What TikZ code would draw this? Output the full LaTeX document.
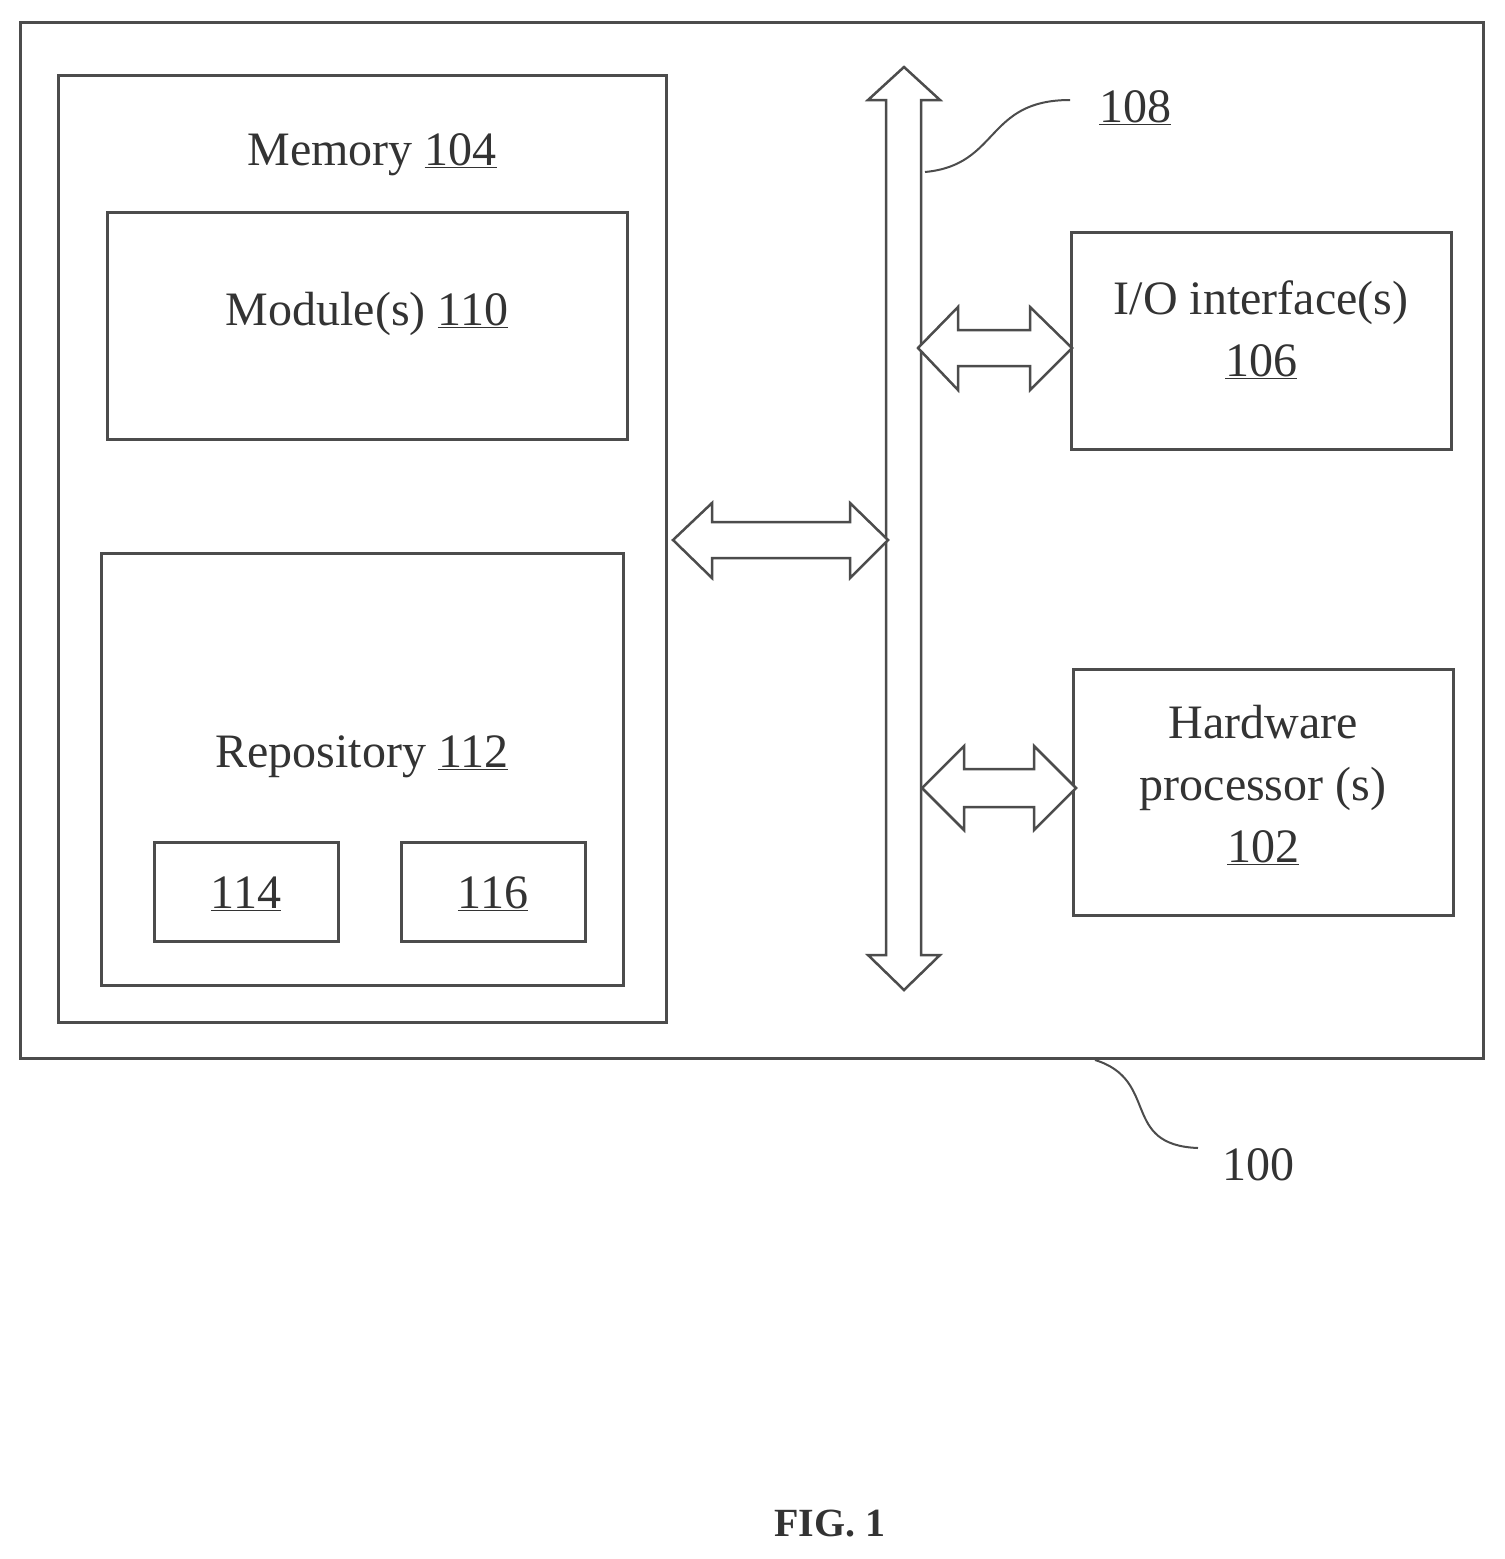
\documentclass[tikz,border=0pt]{standalone}
\usepackage{fontspec}
\setmainfont{Liberation Serif}
\begin{document}
\begin{tikzpicture}[x=1pt,y=-1pt,
  box/.style={draw=black!70,line width=3pt,fill=white},
  lbl/.style={font=\fontsize{48}{62}\selectfont,align=center,text=black!80},
  fat/.style={draw=black!70,line width=2.5pt,fill=white,line join=miter}]
\useasboundingbox (0,0) rectangle (1505,1559);
\draw[box] (20,22) rectangle (1483,1058);
\draw[box] (58,75) rectangle (666,1022);
\node[lbl] (mem) at (372,155) {Memory \underline{104}};
\draw[box] (107,212) rectangle (627,439);
\node[lbl] (mod) at (367,314) {Module(s) \underline{110}};
\draw[box] (101,553) rectangle (623,985);
\node[lbl] (rep) at (362,757) {Repository \underline{112}};
\draw[box] (154,842) rectangle (338,941);
\node[lbl] (a) at (246,894) {\underline{114}};
\draw[box] (401,842) rectangle (585,941);
\node[lbl] (b) at (493,894) {\underline{116}};
\draw[box] (1071,232) rectangle (1451,449);
\node[lbl] (io) at (1261,330) {I/O interface(s)\\\underline{106}};
\draw[box] (1073,669) rectangle (1453,915);
\node[lbl] (hw) at (1263,785) {Hardware\\processor (s)\\\underline{102}};
% bus
\draw[fat] (904,67) -- (940,100) -- (921,100) -- (921,955) -- (940,955) -- (904,990)
  -- (868,955) -- (886,955) -- (886,100) -- (868,100) -- cycle;
% memory-bus arrow
\draw[fat] (673,540) -- (712,503) -- (712,522) -- (850,522) -- (850,503) -- (888,540)
  -- (850,578) -- (850,558) -- (712,558) -- (712,578) -- cycle;
% io arrow
\draw[fat] (918,348) -- (958,307) -- (958,330) -- (1030,330) -- (1030,307) -- (1072,348)
  -- (1030,390) -- (1030,366) -- (958,366) -- (958,390) -- cycle;
% hw arrow
\draw[fat] (922,788) -- (964,746) -- (964,769) -- (1034,769) -- (1034,746) -- (1076,788)
  -- (1034,830) -- (1034,807) -- (964,807) -- (964,830) -- cycle;
% labels
\node[lbl] (l108) at (1135,108) {\underline{108}};
\draw[black!70,line width=2pt] (925,172) .. controls (1000,165) and (985,100) .. (1070,100);
\node[lbl] (l100) at (1258,1165) {100};
\draw[black!70,line width=2pt] (1095,1060) .. controls (1160,1080) and (1120,1145) .. (1198,1148);
\node[font=\bfseries\fontsize{40}{48}\selectfont,text=black!80] (fig) at (830,1524) {FIG. 1};
\end{tikzpicture}
\end{document}
